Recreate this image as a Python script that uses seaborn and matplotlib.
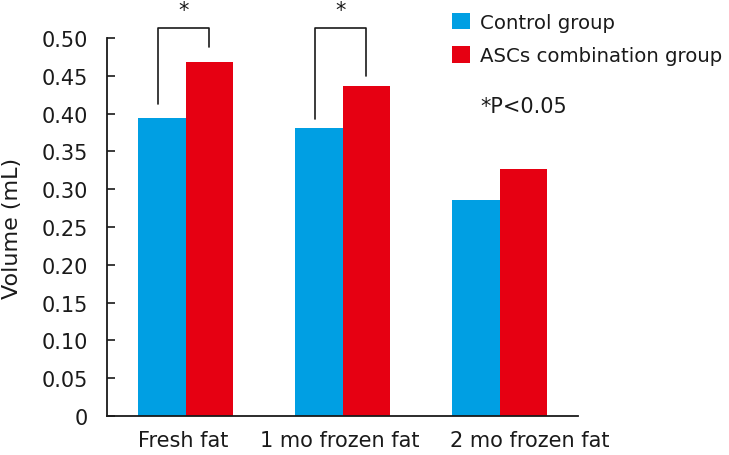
import matplotlib
matplotlib.use("Agg")
import matplotlib.pyplot as plt
import matplotlib.transforms as mtransforms
import numpy as np
import pandas as pd
import seaborn as sns

categories = ["Fresh fat", "1 mo frozen fat", "2 mo frozen fat"]
groups = ["Control group", "ASCs combination group"]
control_vals = [0.394, 0.381, 0.286]
ascs_vals = [0.468, 0.437, 0.327]
yticks = [0, 0.05, 0.10, 0.15, 0.20, 0.25, 0.30, 0.35, 0.40, 0.45, 0.50]
ytick_labels = ["0", "0.05", "0.10", "0.15", "0.20", "0.25", "0.30", "0.35", "0.40", "0.45", "0.50"]

colors = ["#009fe3", "#e60012"]
ink = "#1a1a1a"

df = pd.DataFrame({
    "category": categories * 2,
    "group": [groups[0]] * 3 + [groups[1]] * 3,
    "volume": control_vals + ascs_vals,
})

sns.set_style("white")
plt.rcParams["font.family"] = ["DejaVu Sans"]
plt.rcParams["text.color"] = ink
plt.rcParams["axes.labelcolor"] = ink
plt.rcParams["xtick.color"] = ink
plt.rcParams["ytick.color"] = ink

fig = plt.figure(figsize=(7.29, 4.56), dpi=100)
ax = fig.add_axes([107 / 729, 1 - 417 / 456, (578 - 107) / 729, (417 - 39) / 456])

sns.barplot(data=df, x="category", y="volume", hue="group", order=categories,
            hue_order=groups, palette=colors, width=0.6, saturation=1,
            edgecolor="none", linewidth=0, ax=ax)

ax.set_xlim(-0.5, 2.5)
ax.set_ylim(0, 0.5)
ax.set_yticks(yticks)
ax.set_yticklabels(ytick_labels, fontsize=15)
ax.tick_params(axis="y", left=True, direction="in", length=6, width=1.2,
               color=ink, pad=14)
ax.tick_params(axis="x", bottom=False, length=0, labelsize=15, pad=10)
ax.set_xlabel("")
ax.set_ylabel("Volume (mL)", fontsize=16, labelpad=14)
for side in ["top", "right"]:
    ax.spines[side].set_visible(False)
for side in ["left", "bottom"]:
    ax.spines[side].set_color(ink)
    ax.spines[side].set_linewidth(1.3)

# x labels in the source are not quite centred under the groups
label_shift_px = [-2, -3, 30]
for lab, dx in zip(ax.get_xticklabels(), label_shift_px):
    lab.set_transform(lab.get_transform() +
                      mtransforms.ScaledTranslation(dx / 100, 0, fig.dpi_scale_trans))

# significance brackets
brackets = [(0, 0.413, 0.488), (1, 0.393, 0.450)]
for xi, yl, yr in brackets:
    x0, x1 = xi - 0.175, xi + 0.15
    top = 0.513
    ax.plot([x0, x0, x1, x1], [yl, top, top, yr], color=ink, lw=1.2,
            clip_on=False)
    star_x = fig.transFigure.inverted().transform(
        ax.transData.transform(((x0 + x1) / 2, top)))[0]
    fig.text(star_x, 1 - 1 / 456, "*", ha="center", va="top", fontsize=15)

handles, labels = ax.get_legend_handles_labels()
ax.legend(handles, labels, loc="upper left", bbox_to_anchor=(438 / 729, 1.0),
          bbox_transform=fig.transFigure, frameon=False, fontsize=14.2,
          handlelength=0.92, handleheight=0.92, handletextpad=0.5,
          labelspacing=0.72, borderaxespad=0.3)
fig.text(480 / 729, 1 - 107 / 456, "*P<0.05", fontsize=15, va="center")

fig.savefig("out.png", dpi=100)
